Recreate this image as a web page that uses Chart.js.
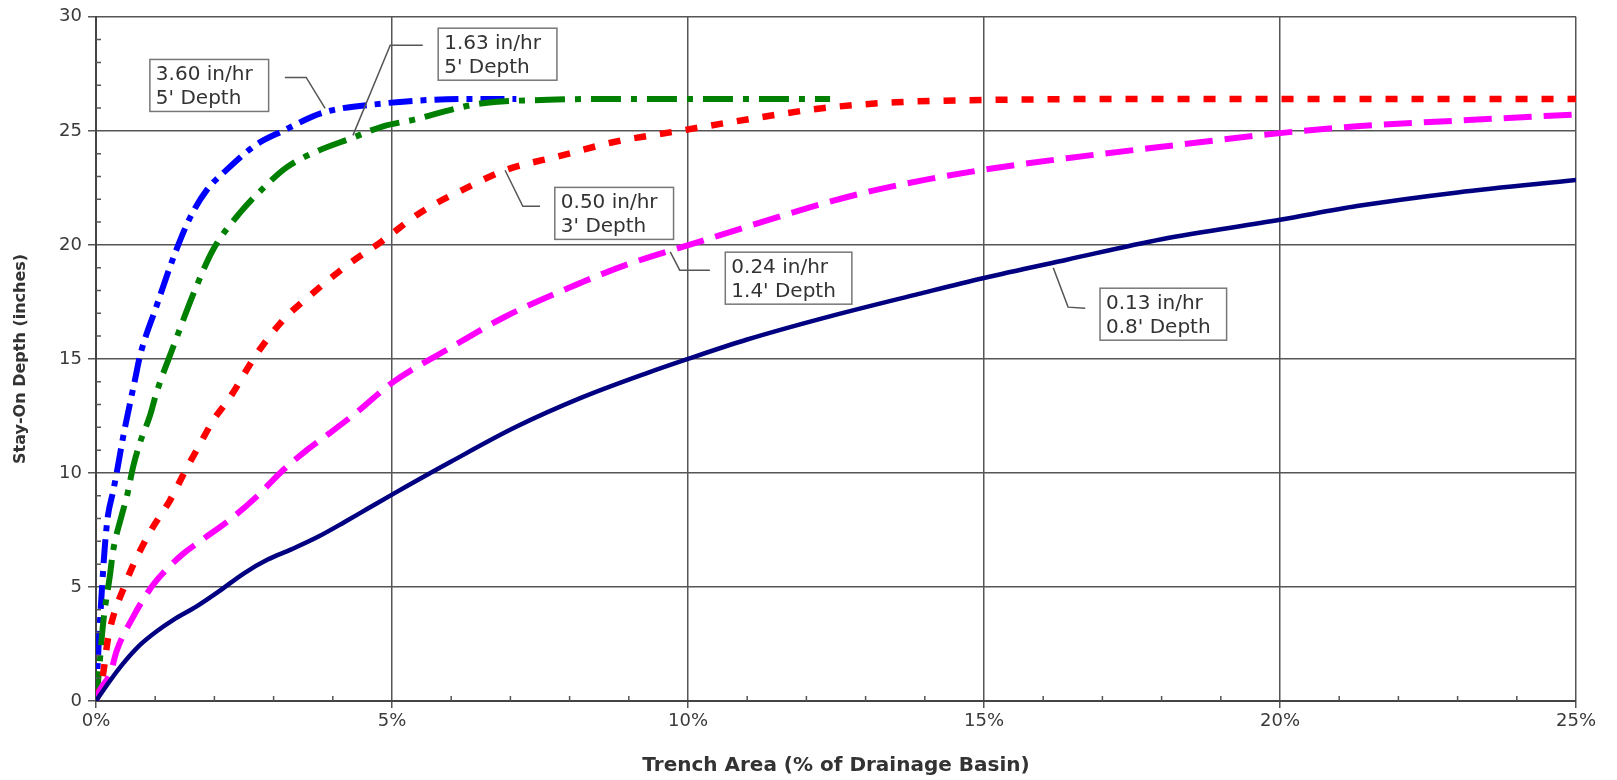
<!DOCTYPE html>
<html>
<head>
<meta charset="utf-8">
<script src="https://cdn.jsdelivr.net/npm/chart.js@4.4.0/dist/chart.umd.min.js"></script>
<style>
  html, body { margin: 0; padding: 0; background: #fff; }
  #chart { display: block; }
</style>
</head>
<body>
<canvas id="chart" width="1617" height="780"></canvas>
<script>
// === Data: x = trench area (%), y = stay-on depth (in) ===
const area360  = [0, 0.04, 0.1, 0.15, 0.2, 0.29, 0.37, 0.46, 0.57, 0.66, 0.74, 1.02, 1.33, 1.59, 1.87, 2.21, 2.71, 3.16, 3.84, 4.85, 5.6, 6.3, 7.1];
const depth360 = [0, 2.2, 4.9, 6.8, 8.1, 9.2, 10.3, 11.6, 13.0, 14.1, 15.1, 17.3, 19.6, 21.2, 22.4, 23.3, 24.4, 25.0, 25.8, 26.2, 26.35, 26.4, 26.4];

const area163  = [0, 0.04, 0.12, 0.24, 0.29, 0.43, 0.52, 0.63, 0.74, 0.91, 1.02, 1.3, 1.7, 1.98, 2.43, 2.83, 3.22, 3.73, 4.34, 4.85, 5.39, 5.96, 6.5, 7.64, 9.0, 10.5, 12.4];
const depth163 = [0, 1.0, 3.4, 5.6, 6.6, 8.1, 8.95, 10.3, 11.3, 12.5, 13.5, 15.5, 18.2, 19.8, 21.4, 22.5, 23.4, 24.1, 24.7, 25.2, 25.5, 25.9, 26.2, 26.36, 26.4, 26.4, 26.4];

const area050  = [0, 0.12, 0.2, 0.29, 0.46, 0.6, 0.91, 1.25, 1.53, 1.7, 1.98, 2.26, 2.71, 3.16, 3.67, 4.29, 4.8, 5.47, 6.26, 6.94, 7.84, 8.73, 9.86, 11.0, 12.3, 13.5, 15, 17.5, 20, 22.5, 25];
const depth050 = [0, 1.2, 2.7, 3.7, 4.9, 5.8, 7.4, 8.8, 10.2, 11.0, 12.3, 13.3, 15.2, 16.7, 17.9, 19.2, 20.1, 21.4, 22.5, 23.3, 23.9, 24.5, 25.0, 25.5, 26.0, 26.25, 26.35, 26.4, 26.4, 26.4, 26.4];

const area024  = [0, 0.07, 0.24, 0.35, 0.63, 0.91, 1.13, 1.47, 1.81, 2.26, 2.71, 3.11, 3.56, 3.95, 4.4, 5.0, 5.96, 6.91, 8.2, 9.04, 10.17, 11, 12, 13, 14, 15, 16.4, 18, 20, 21.3, 23, 25];
const depth024 = [0, 0.5, 1.2, 2.2, 3.7, 4.9, 5.6, 6.45, 7.1, 7.95, 8.95, 10.0, 11.0, 11.75, 12.65, 13.95, 15.45, 16.85, 18.35, 19.2, 20.12, 20.8, 21.6, 22.3, 22.85, 23.3, 23.8, 24.3, 24.9, 25.2, 25.45, 25.72];

const area013  = [0, 0.24, 0.46, 0.74, 1.02, 1.3, 1.7, 2.1, 2.5, 2.9, 3.3, 3.75, 4.2, 4.6, 5.0, 6.0, 7.08, 8.2, 9.33, 10, 11, 12.3, 13.9, 15, 16.4, 18, 20, 21.3, 23, 25];
const depth013 = [0, 0.9, 1.65, 2.45, 3.05, 3.55, 4.15, 4.85, 5.6, 6.2, 6.65, 7.2, 7.85, 8.45, 9.05, 10.5, 12.0, 13.3, 14.4, 15.0, 15.85, 16.8, 17.85, 18.55, 19.35, 20.25, 21.1, 21.7, 22.3, 22.84];

const xTickLabels = ["0%", "5%", "10%", "15%", "20%", "25%"];
const yTickLabels = ["0", "5", "10", "15", "20", "25", "30"];

// callouts: text, box top-left (data units), leader polyline (data units)
const calloutText = [
  ["3.60 in/hr", "5' Depth"],
  ["1.63 in/hr", "5' Depth"],
  ["0.50 in/hr", "3' Depth"],
  ["0.24 in/hr", "1.4' Depth"],
  ["0.13 in/hr", "0.8' Depth"]
];
const calloutBox = [[0.91, 28.13], [5.78, 29.5], [7.75, 22.52], [10.63, 19.68], [16.96, 18.1]];
const calloutLeader = [
  [[3.19, 27.34], [3.55, 27.34], [3.87, 25.98]],
  [[5.52, 28.75], [4.97, 28.75], [4.34, 24.8]],
  [[7.5, 21.69], [7.21, 21.69], [6.91, 23.27]],
  [[10.37, 18.89], [9.86, 18.89], [9.7, 19.69]],
  [[16.71, 17.22], [16.42, 17.27], [16.17, 19.0]]
];

const pts = (xs, ys) => xs.map((x, i) => ({ x, y: ys[i] }));

const FONT = "'DejaVu Sans', 'Liberation Sans', sans-serif";

// === Minor ticks + callout boxes ===
const extras = {
  id: "extras",
  afterDatasetsDraw(chart) {
    const { ctx, chartArea: a } = chart;
    const { x, y } = chart.scales;
    ctx.save();

    ctx.strokeStyle = "#555";
    ctx.lineWidth = 1.5;
    ctx.beginPath();
    for (let v = 1; v < 25; v++) {
      if (v % 5 === 0) continue;
      const px = x.getPixelForValue(v);
      ctx.moveTo(px, a.bottom);
      ctx.lineTo(px, a.bottom - 5);
    }
    for (let v = 1; v < 30; v++) {
      if (v % 5 === 0) continue;
      const py = y.getPixelForValue(v);
      ctx.moveTo(a.left, py);
      ctx.lineTo(a.left + 5, py);
    }
    ctx.stroke();

    ctx.font = "20px " + FONT;
    ctx.textBaseline = "alphabetic";
    calloutText.forEach((lines, i) => {
      // leader
      ctx.strokeStyle = "#555";
      ctx.lineWidth = 1.5;
      ctx.beginPath();
      calloutLeader[i].forEach(([lx, ly], j) => {
        const px = x.getPixelForValue(lx), py = y.getPixelForValue(ly);
        j ? ctx.lineTo(px, py) : ctx.moveTo(px, py);
      });
      ctx.stroke();

      // box
      const bx = x.getPixelForValue(calloutBox[i][0]);
      const by = y.getPixelForValue(calloutBox[i][1]);
      const w = Math.max(...lines.map(t => ctx.measureText(t).width)) + 22;
      const h = 52;
      ctx.fillStyle = "#fff";
      ctx.fillRect(bx, by, w, h);
      ctx.strokeStyle = "#777";
      ctx.strokeRect(bx, by, w, h);
      ctx.fillStyle = "#333";
      ctx.fillText(lines[0], bx + 6, by + 21);
      ctx.fillText(lines[1], bx + 6, by + 45);
    });
    ctx.restore();
  }
};

const line = (label, xs, ys, color, width, dash) => ({
  label,
  data: pts(xs, ys),
  borderColor: color,
  backgroundColor: color,
  borderWidth: width,
  borderDash: dash,
  pointRadius: 0,
  fill: false,
  cubicInterpolationMode: "monotone"
});

const ctx = document.getElementById("chart").getContext("2d");
new Chart(ctx, {
  type: "line",
  data: {
    datasets: [
      line("0.13 in/hr, 0.8' Depth", area013, depth013, "#000080", 4.5, []),
      line("0.24 in/hr, 1.4' Depth", area024, depth024, "#ff00ff", 6, [28, 12]),
      line("0.50 in/hr, 3' Depth", area050, depth050, "#ff0000", 6.5, [12, 14]),
      line("1.63 in/hr, 5' Depth", area163, depth163, "#008000", 6, [30, 10, 6, 10]),
      line("3.60 in/hr, 5' Depth", area360, depth360, "#0000ff", 6, [24, 8, 6, 8])
    ]
  },
  options: {
    responsive: false,
    animation: false,
    devicePixelRatio: 1,
    layout: { padding: { top: 16, right: 41, left: 0, bottom: 0 } },
    plugins: { legend: { display: false }, tooltip: { enabled: false } },
    scales: {
      x: {
        type: "linear",
        min: 0,
        max: 25,
        afterFit: s => { s.height = 79; },
        afterBuildTicks: s => { s.ticks = xTickLabels.map((_, i) => ({ value: i * 5 })); },
        ticks: {
          callback: (v, i) => xTickLabels[i],
          color: "#3a3a3a",
          font: { family: FONT, size: 18 },
          padding: 3,
          maxRotation: 0
        },
        grid: { color: "#555", lineWidth: 1.5, tickLength: 7 },
        border: { color: "#444", width: 2 },
        title: {
          display: true,
          text: "Trench Area (% of Drainage Basin)",
          color: "#333",
          font: { family: FONT, size: 20, weight: "bold" },
          padding: { top: 0, bottom: 2 }
        }
      },
      y: {
        min: 0,
        max: 30,
        afterFit: s => { s.width = 96; },
        afterBuildTicks: s => { s.ticks = yTickLabels.map((_, i) => ({ value: i * 5 })); },
        ticks: {
          callback: (v, i) => yTickLabels[i],
          color: "#3a3a3a",
          font: { family: FONT, size: 18 },
          padding: 6
        },
        grid: { color: "#555", lineWidth: 1.5, tickLength: 8 },
        border: { color: "#444", width: 2 },
        title: {
          display: true,
          text: "Stay-On Depth (inches)",
          color: "#333",
          font: { family: FONT, size: 16, weight: "bold" },
          padding: { top: 11, bottom: 0 }
        }
      }
    }
  },
  plugins: [extras]
});
</script>
</body>
</html>
